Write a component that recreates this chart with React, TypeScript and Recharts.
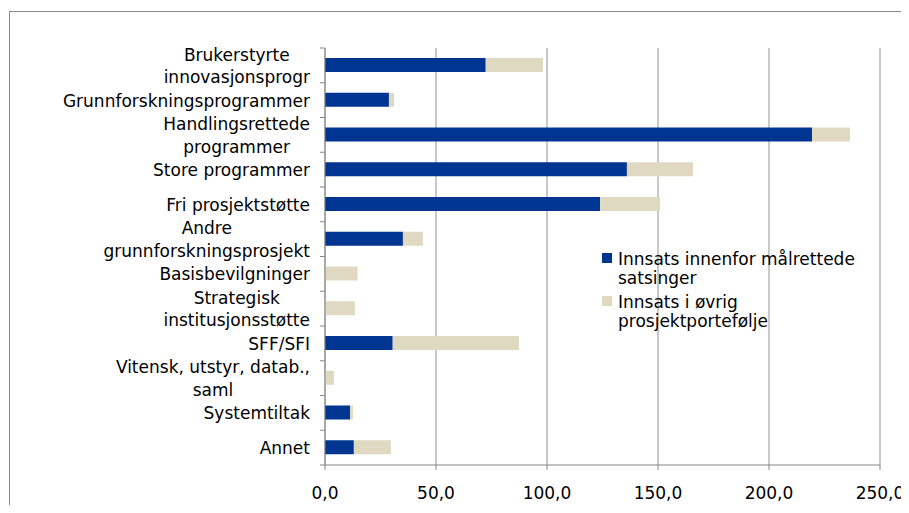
import { BarChart, Bar, XAxis, YAxis, CartesianGrid, Legend } from "recharts";

// kategorier (linjeskift der Excel bryter etiketten)
const categories = [
  "Brukerstyrte\ninnovasjonsprogr",
  "Grunnforskningsprogrammer",
  "Handlingsrettede\nprogrammer",
  "Store programmer",
  "Fri prosjektstøtte",
  "Andre\ngrunnforskningsprosjekt",
  "Basisbevilgninger",
  "Strategisk\ninstitusjonsstøtte",
  "SFF/SFI",
  "Vitensk, utstyr, datab.,\nsaml",
  "Systemtiltak",
  "Annet",
];

const malrettede = [72.4, 28.8, 219.4, 136.0, 123.9, 35.1, 0, 0, 30.5, 0, 11.3, 13.0];
const ovrig = [25.8, 2.3, 17.1, 29.8, 27.0, 9.0, 14.7, 13.5, 56.9, 4.0, 1.3, 16.7];

const seriesNames = ["Innsats innenfor målrettede satsinger", "Innsats i øvrig prosjektportefølje"];
const seriesColors = ["#003591", "#DFD9C2"];

const xTicks = [0, 50, 100, 150, 200, 250];

const data = categories.map((name, i) => ({
  name,
  malrettede: malrettede[i],
  ovrig: ovrig[i],
}));

const W = 909;
const H = 513;
const PLOT_LEFT = 325;
const PLOT_TOP = 48;
const PLOT_BOTTOM = 465;
const BAND = (PLOT_BOTTOM - PLOT_TOP) / categories.length;
const LABEL_RIGHT = 310;
const FONT = "17px 'DejaVu Sans'";
const AXIS_GRAY = "#868686";

let ctx: CanvasRenderingContext2D | null = null;
function textWidth(s: string) {
  if (!ctx) ctx = document.createElement("canvas").getContext("2d");
  if (!ctx) return s.length * 9;
  ctx.font = FONT;
  return ctx.measureText(s).width;
}

function CategoryTick(props: any) {
  const { y, payload, index } = props;
  const lines = String(payload.value).split("\n");
  const maxW = Math.max(...lines.map(textWidth));
  const multi = lines.length > 1;
  const cx = LABEL_RIGHT - maxW / 2;
  const top = y - BAND / 2;
  return (
    <g>
      <line x1={PLOT_LEFT - 5} x2={PLOT_LEFT} y1={top} y2={top} stroke={AXIS_GRAY} />
      {index === categories.length - 1 && (
        <line x1={PLOT_LEFT - 5} x2={PLOT_LEFT} y1={top + BAND} y2={top + BAND} stroke={AXIS_GRAY} />
      )}
      {lines.map((l, i) => (
        <text
          key={i}
          x={multi ? cx : LABEL_RIGHT}
          y={y + 6.5 + (i - (lines.length - 1) / 2) * 22.5}
          textAnchor={multi ? "middle" : "end"}
          style={{ font: FONT }}
          fill="#000"
        >
          {l}
        </text>
      ))}
    </g>
  );
}

function LegendBox() {
  return (
    <div style={{ width: 275, font: FONT, lineHeight: "19px", color: "#000" }}>
      {seriesNames.map((n, i) => (
        <div key={n} style={{ display: "flex", marginBottom: 5 }}>
          <span
            style={{
              width: 10,
              height: 10,
              background: seriesColors[i],
              marginTop: 3,
              marginRight: 6,
              flex: "none",
            }}
          />
          <span>{n}</span>
        </div>
      ))}
    </div>
  );
}

export default function App() {
  return (
    <div style={{ position: "relative", margin: -8, width: W, height: H, overflow: "hidden", background: "#fff" }}>
      <div
        style={{
          position: "absolute",
          left: 9,
          top: 11,
          width: 1000,
          height: 600,
          border: "1px solid #8a8a8a",
        }}
      />
      <div style={{ position: "absolute", left: 0, top: 0 }}>
        <BarChart
          width={W}
          height={H}
          data={data}
          layout="vertical"
          margin={{ top: PLOT_TOP, right: W - 880, bottom: 0, left: 0 }}
          barSize={14}
        >
          <CartesianGrid horizontal={false} stroke="#ABABAB" strokeWidth={1.3} />
          <XAxis
            type="number"
            domain={[0, 250]}
            ticks={xTicks}
            interval={0}
            height={H - PLOT_BOTTOM}
            stroke={AXIS_GRAY}
            tickSize={5}
            tickMargin={17}
            tick={{ fill: "#000", style: { font: FONT } }}
            tickFormatter={(v: number) => v.toFixed(1).replace(".", ",")}
          />
          <YAxis
            type="category"
            dataKey="name"
            width={PLOT_LEFT}
            stroke={AXIS_GRAY}
            tickLine={false}
            interval={0}
            tick={<CategoryTick />}
          />
          <Legend
            layout="vertical"
            align="center"
            verticalAlign="middle"
            wrapperStyle={{ left: 602, top: 250, width: 275 }}
            content={() => <LegendBox />}
          />
          <Bar dataKey="malrettede" stackId="a" fill={seriesColors[0]} name={seriesNames[0]} isAnimationActive={false} />
          <Bar dataKey="ovrig" stackId="a" fill={seriesColors[1]} name={seriesNames[1]} isAnimationActive={false} />
        </BarChart>
      </div>
    </div>
  );
}
